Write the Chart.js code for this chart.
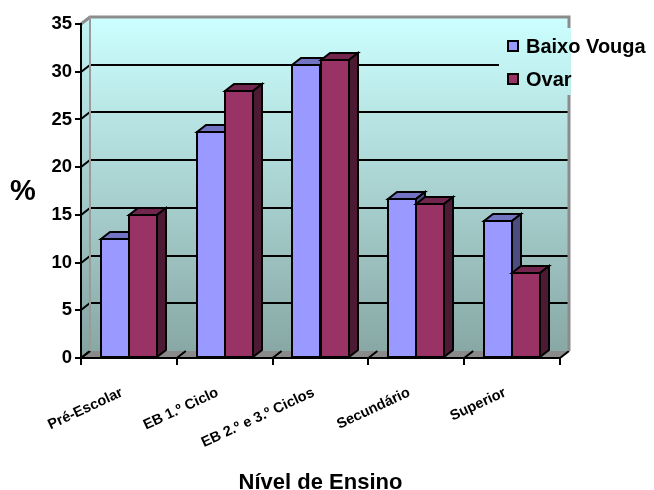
<!DOCTYPE html>
<html>
<head>
<meta charset="utf-8">
<script src="https://cdn.jsdelivr.net/npm/chart.js@4.4.1/dist/chart.umd.min.js"></script>
<style>
  html, body { margin: 0; padding: 0; background: #ffffff; }
  #wrap { width: 654px; height: 490px; }
</style>
</head>
<body>
<div id="wrap"><canvas id="c" width="654" height="490"></canvas></div>
<script>
// Education level shares (%)
const categories = ['Pré-Escolar', 'EB 1.º Ciclo', 'EB 2.º e 3.º Ciclos', 'Secundário', 'Superior'];
const baixoVouga = [12.5, 23.7, 30.7, 16.7, 14.4];
const ovar = [15.0, 28.0, 31.2, 16.1, 8.9];
const seriesNames = ['Baixo Vouga', 'Ovar'];
const yTicks = [0, 5, 10, 15, 20, 25, 30, 35];

const FONT = "'Liberation Sans', Arial, Helvetica, sans-serif";
const DX = 9, DY = -7;          // depth offset of the 3D box
const faces = [
  { front: '#9999FF', top: '#7373C4', side: '#4D4D80' },
  { front: '#993366', top: '#73264D', side: '#4D1A33' }
];

function poly(ctx, pts, fill, stroke, lw) {
  ctx.beginPath();
  ctx.moveTo(pts[0][0], pts[0][1]);
  for (let i = 1; i < pts.length; i++) ctx.lineTo(pts[i][0], pts[i][1]);
  ctx.closePath();
  if (fill) { ctx.fillStyle = fill; ctx.fill(); }
  if (stroke) { ctx.strokeStyle = stroke; ctx.lineWidth = lw || 2; ctx.stroke(); }
}

function wallGradient(ctx, y0, y1, c0, c1) {
  const g = ctx.createLinearGradient(0, y0, 0, y1);
  g.addColorStop(0, c0);
  g.addColorStop(1, c1);
  return g;
}

const depthPlugin = {
  id: 'depth',
  beforeDraw(chart) {
    const { ctx, chartArea: a, scales: { y } } = chart;
    const L = a.left, R = a.right, T = a.top, B = a.bottom;
    ctx.save();
    ctx.lineJoin = 'miter';
    // back wall
    ctx.fillStyle = wallGradient(ctx, T + DY, B + DY, '#CCFFFF', '#88A8A5');
    ctx.fillRect(L + DX, T + DY, R - L, B - T);
    // left side wall
    poly(ctx, [[L, T], [L + DX, T + DY], [L + DX, B + DY], [L, B]],
      wallGradient(ctx, T, B, '#C2F2F2', '#84A3A0'));
    // floor
    poly(ctx, [[L, B], [L + DX, B + DY], [R + DX, B + DY], [R, B]], '#8A8A8A');

    // value grid lines on the back wall and the side wall
    ctx.lineCap = 'butt';
    yTicks.forEach(v => {
      const py = Math.round(y.getPixelForValue(v));
      ctx.strokeStyle = '#000';
      ctx.lineWidth = 2;
      if (v > 0 && v < yTicks[yTicks.length - 1]) {
        ctx.beginPath();
        ctx.moveTo(L + DX, py + DY);
        ctx.lineTo(R + DX, py + DY);
        ctx.stroke();
      }
      if (v < yTicks[yTicks.length - 1]) {
        ctx.beginPath();
        ctx.moveTo(L, py);
        ctx.lineTo(L + DX, py + DY);
        ctx.stroke();
      }
    });

    // category separators on the floor
    const n = categories.length;
    for (let i = 0; i <= n; i++) {
      const bx = L + (R - L) * i / n;
      ctx.beginPath();
      ctx.moveTo(bx, B);
      ctx.lineTo(bx + DX, B + DY);
      ctx.strokeStyle = '#000';
      ctx.lineWidth = 2;
      ctx.stroke();
    }

    // wall outline
    ctx.strokeStyle = '#8C8C8C';
    ctx.lineWidth = 3;
    ctx.beginPath();
    ctx.moveTo(L, T);
    ctx.lineTo(L + DX, T + DY);
    ctx.lineTo(R + DX, T + DY);
    ctx.lineTo(R + DX, B + DY);
    ctx.stroke();
    ctx.lineWidth = 2;
    ctx.strokeStyle = '#9A9A9A';
    ctx.beginPath();
    ctx.moveTo(L + DX, T + DY);
    ctx.lineTo(L + DX, B + DY);
    ctx.stroke();
    ctx.restore();
  },
  afterDatasetsDraw(chart) {
    const { ctx } = chart;
    const metas = chart.getSortedVisibleDatasetMetas();
    ctx.save();
    ctx.lineJoin = 'miter';
    for (let i = 0; i < categories.length; i++) {
      metas.forEach(m => {
        const el = m.data[i];
        const p = el.getProps(['x', 'y', 'base', 'width'], true);
        const l = Math.round(p.x - p.width / 2), r = Math.round(p.x + p.width / 2);
        const t = Math.round(p.y), b = Math.round(p.base);
        const f = faces[m.index];
        poly(ctx, [[l, t], [r, t], [r, b], [l, b]], f.front, '#000', 2);
        poly(ctx, [[l, t], [l + DX, t + DY], [r + DX, t + DY], [r, t]], f.top, '#000', 2);
        poly(ctx, [[r, t], [r + DX, t + DY], [r + DX, b + DY], [r, b]], f.side, '#000', 2);
      });
    }
    ctx.restore();
  },
  afterDraw(chart) {
    const { ctx, chartArea: a } = chart;
    ctx.save();
    // legend panel sitting over the back wall
    const mx0 = 499, mx1 = a.right + DX + 2, my0 = 28, my1 = 95;
    ctx.fillStyle = wallGradient(ctx, a.top + DY, a.bottom + DY, '#CCFFFF', '#88A8A5');
    ctx.fillRect(mx0, my0, mx1 - mx0, my1 - my0);
    const items = [{ y: 46 }, { y: 79 }];
    ctx.font = 'bold 20px ' + FONT;
    ctx.textBaseline = 'middle';
    ctx.textAlign = 'left';
    seriesNames.forEach((name, k) => {
      const cy = items[k].y;
      ctx.fillStyle = faces[k].front;
      ctx.fillRect(508, cy - 5, 10, 10);
      ctx.strokeStyle = '#000';
      ctx.lineWidth = 2;
      ctx.strokeRect(508, cy - 5, 10, 10);
      ctx.fillStyle = '#000';
      ctx.fillText(name, 526, cy + 1);
    });
    // value axis caption
    ctx.font = 'bold 29px ' + FONT;
    ctx.textAlign = 'center';
    ctx.fillText('%', 23, 192);
    ctx.restore();
  }
};

const ctx = document.getElementById('c').getContext('2d');
new Chart(ctx, {
  type: 'bar',
  data: {
    labels: categories,
    datasets: [
      { label: seriesNames[0], data: baixoVouga, backgroundColor: faces[0].front, borderWidth: 0 },
      { label: seriesNames[1], data: ovar, backgroundColor: faces[1].front, borderWidth: 0 }
    ]
  },
  options: {
    responsive: false,
    animation: false,
    devicePixelRatio: 1,
    layout: { padding: { left: 0, right: 94, top: 24, bottom: 0 } },
    plugins: { legend: { display: false }, tooltip: { enabled: false } },
    datasets: { bar: { categoryPercentage: 0.585, barPercentage: 1.0 } },
    scales: {
      x: {
        afterFit(s) { s.height = 132; },
        grid: { drawOnChartArea: false, drawTicks: true, tickLength: 7, color: '#000', lineWidth: 2 },
        border: { display: true, color: '#000', width: 2 },
        ticks: {
          autoSkip: false, minRotation: 25, maxRotation: 25, padding: 19, labelOffset: -7,
          color: '#000', font: { family: FONT, size: 14.5, weight: 'bold' }
        },
        title: {
          display: true, text: 'Nível de Ensino', color: '#000',
          font: { family: FONT, size: 22, weight: 'bold', lineHeight: 0.65 }, padding: { top: 0, bottom: 0 }
        }
      },
      y: {
        min: 0, max: 35,
        afterFit(s) { s.width = 81; },
        afterBuildTicks(s) { s.ticks = yTicks.map(v => ({ value: v })); },
        grid: { drawOnChartArea: false, drawTicks: true, tickLength: 6, color: '#000', lineWidth: 2 },
        border: { display: true, color: '#000', width: 2 },
        ticks: { padding: 3, color: '#000', font: { family: FONT, size: 18.5, weight: 'bold' } }
      }
    }
  },
  plugins: [depthPlugin]
});
</script>
</body>
</html>
